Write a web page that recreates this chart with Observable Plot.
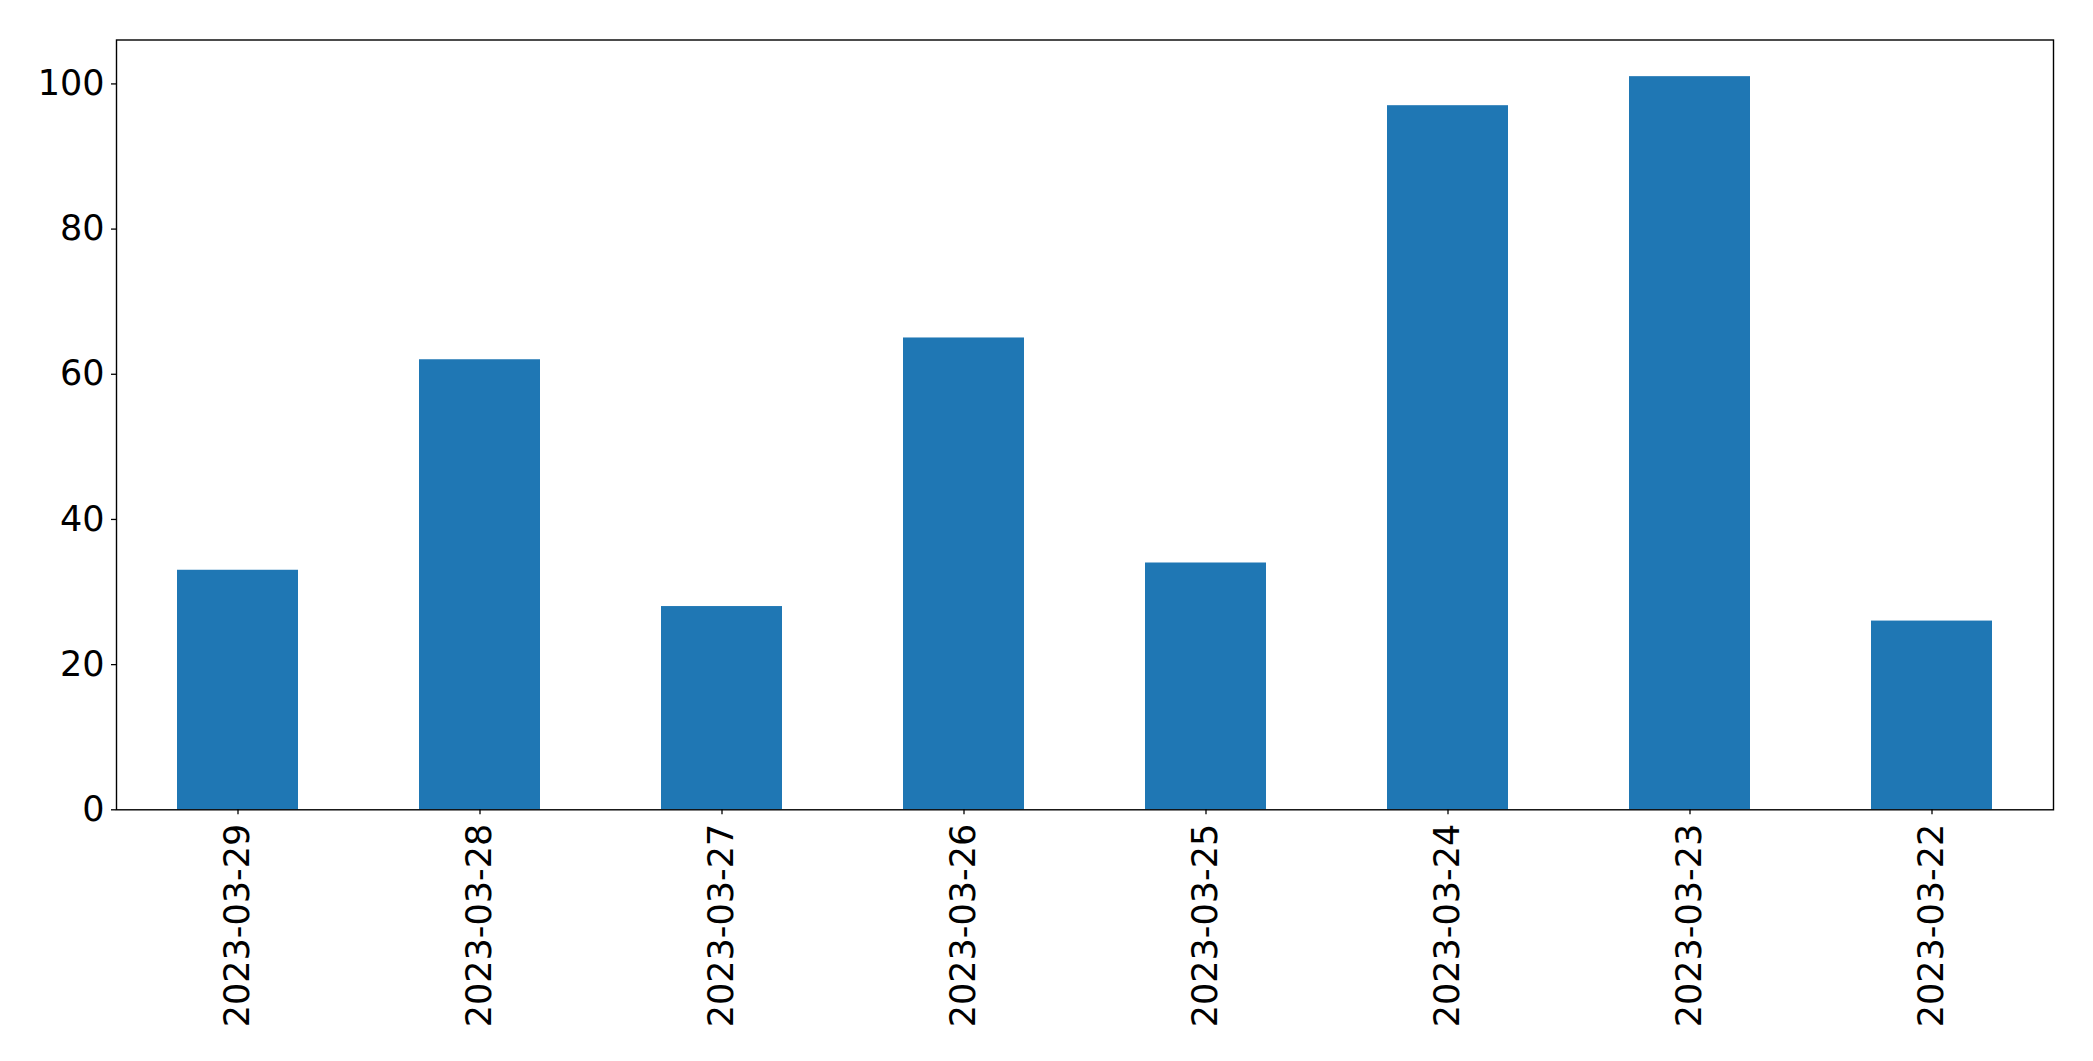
<!DOCTYPE html>
<html>
<head>
<meta charset="utf-8">
<script src="https://cdn.jsdelivr.net/npm/d3@7"></script>
<script src="https://cdn.jsdelivr.net/npm/@observablehq/plot@0.6"></script>
<style>
  html, body { margin: 0; padding: 0; background: #fff; }
  #chart svg { display: block; }
</style>
</head>
<body>
<div id="chart"></div>
<script>
const dates = ["2023-03-29", "2023-03-28", "2023-03-27", "2023-03-26", "2023-03-25", "2023-03-24", "2023-03-23", "2023-03-22"];
const counts = [33, 62, 28, 65, 34, 97, 101, 26];
const yTicks = [0, 20, 40, 60, 80, 100];

const data = dates.map((d, i) => ({date: d, count: counts[i]}));

const chart = Plot.plot({
  width: 2093,
  height: 1061,
  marginLeft: 116,
  marginRight: 40,
  marginTop: 39.5,
  marginBottom: 251.7,
  style: {fontFamily: "'DejaVu Sans', sans-serif", background: "#fff", color: "#000"},
  x: {domain: dates, paddingInner: 0.5, paddingOuter: 0.25, label: null},
  y: {domain: [0, 106.05], label: null},
  marks: [
    Plot.barY(data, {x: "date", y: "count", fill: "#1f77b4"}),
    Plot.frame({stroke: "#000", strokeWidth: 1.4}),
    Plot.axisY({ticks: yTicks, tickSize: 5, tickPadding: 7, fontSize: 35, label: null, stroke: "#000", strokeWidth: 1.3}),
    Plot.axisX({tickSize: 5, tickPadding: 9, tickRotate: -90, fontSize: 35, label: null, stroke: "#000", strokeWidth: 1.3})
  ]
});
document.getElementById("chart").appendChild(chart);
</script>
</body>
</html>
